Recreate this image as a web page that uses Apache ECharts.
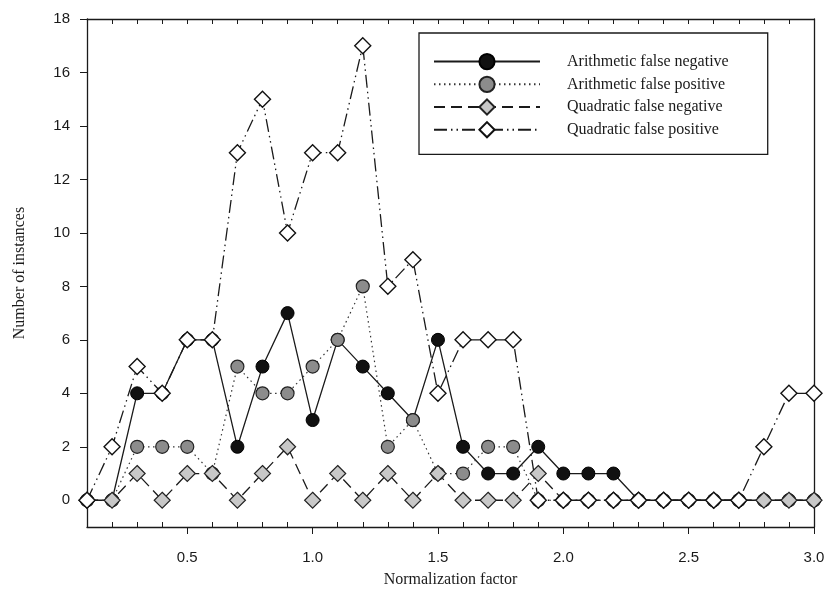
<!DOCTYPE html>
<html>
<head>
<meta charset="utf-8">
<title>Number of instances vs normalization factor</title>
<script src="https://cdn.jsdelivr.net/npm/echarts@6/dist/echarts.min.js"></script>
<style>
  html, body { margin: 0; padding: 0; background: #fff; }
  #chart { width: 829px; height: 599px; }
</style>
</head>
<body>
<div id="chart"></div>
<script>
// normalization factor values (x)
var factors = [0.1, 0.2, 0.3, 0.4, 0.5, 0.6, 0.7, 0.8, 0.9, 1.0,
  1.1, 1.2, 1.3, 1.4, 1.5, 1.6, 1.7, 1.8, 1.9, 2.0,
  2.1, 2.2, 2.3, 2.4, 2.5, 2.6, 2.7, 2.8, 2.9, 3.0];

var arithFalseNeg = [0, 0, 4, 4, 6, 6, 2, 5, 7, 3,
  6, 5, 4, 3, 6, 2, 1, 1, 2, 1,
  1, 1, 0, 0, 0, 0, 0, 0, 0, 0];
var arithFalsePos = [0, 0, 2, 2, 2, 1, 5, 4, 4, 5,
  6, 8, 2, 3, 1, 1, 2, 2, 0, 0,
  0, 0, 0, 0, 0, 0, 0, 0, 0, 0];
var quadFalseNeg = [0, 0, 1, 0, 1, 1, 0, 1, 2, 0,
  1, 0, 1, 0, 1, 0, 0, 0, 1, 0,
  0, 0, 0, 0, 0, 0, 0, 0, 0, 0];
var quadFalsePos = [0, 2, 5, 4, 6, 6, 13, 15, 10, 13,
  13, 17, 8, 9, 4, 6, 6, 6, 0, 0,
  0, 0, 0, 0, 0, 0, 0, 2, 4, 4];

var yTicks = [0, 2, 4, 6, 8, 10, 12, 14, 16, 18];
var xMajor = [0.5, 1.0, 1.5, 2.0, 2.5, 3.0];
var xMinor = [0.2, 0.3, 0.4, 0.6, 0.7, 0.8, 0.9, 1.1, 1.2, 1.3, 1.4,
  1.6, 1.7, 1.8, 1.9, 2.1, 2.2, 2.3, 2.4, 2.6, 2.7, 2.8, 2.9];

function pairs(values) {
  return factors.map(function (x, i) { return [x, values[i]]; });
}

var sansFont = "'Liberation Sans', Arial, sans-serif";
var serifFont = "'Liberation Serif', 'Times New Roman', serif";
var ink = "#1a1a1a";

var chart = echarts.init(document.getElementById("chart"));

chart.setOption({
  backgroundColor: "#ffffff",
  animation: false,
  grid: { left: 87, top: 19, right: 15, bottom: 72 },
  legend: {
    left: 419,
    top: 33,
    orient: "vertical",
    padding: [20, 39, 16, 14],
    borderColor: ink,
    borderWidth: 1.3,
    itemWidth: 106,
    itemHeight: 19,
    itemGap: 5.5,
    textStyle: {
      fontFamily: serifFont,
      fontSize: 16,
      color: ink,
      padding: [0, 0, 0, 22]
    }
  },
  xAxis: [
    {
      type: "value",
      min: 0.1,
      max: 3.0,
      position: "bottom",
      name: "Normalization factor",
      nameLocation: "middle",
      nameGap: 45,
      nameTextStyle: { fontFamily: serifFont, fontSize: 16, color: ink },
      axisLine: { onZero: false, lineStyle: { color: ink, width: 1.3 } },
      axisTick: { inside: false, length: 7, customValues: xMajor, lineStyle: { color: ink } },
      axisLabel: {
        customValues: xMajor,
        margin: 23,
        fontFamily: sansFont,
        fontSize: 15,
        color: ink,
        formatter: function (v) { return v.toFixed(1); }
      },
      splitLine: { show: false }
    },
    {
      type: "value",
      min: 0.1,
      max: 3.0,
      position: "bottom",
      axisLine: { show: false, onZero: false },
      axisTick: { inside: true, length: 5, customValues: xMinor, lineStyle: { color: ink } },
      axisLabel: { show: false },
      splitLine: { show: false }
    },
    {
      type: "value",
      min: 0.1,
      max: 3.0,
      position: "top",
      axisLine: { onZero: false, lineStyle: { color: ink, width: 1.3 } },
      axisTick: { inside: true, length: 5, customValues: xMinor.concat([0.5, 1.0, 1.5, 2.0, 2.5]), lineStyle: { color: ink } },
      axisLabel: { show: false },
      splitLine: { show: false }
    }
  ],
  yAxis: [
    {
      type: "value",
      min: -1,
      max: 18,
      name: "Number of instances",
      nameLocation: "middle",
      nameGap: 59,
      nameTextStyle: { fontFamily: serifFont, fontSize: 16, color: ink },
      axisLine: { show: true, onZero: false, lineStyle: { color: ink, width: 1.3 } },
      axisTick: { show: true, inside: false, length: 7, customValues: yTicks, lineStyle: { color: ink } },
      axisLabel: {
        customValues: yTicks,
        margin: 17,
        fontFamily: sansFont,
        fontSize: 15,
        color: ink
      },
      splitLine: { show: false }
    },
    {
      type: "value",
      min: -1,
      max: 18,
      position: "right",
      axisLine: { show: true, onZero: false, lineStyle: { color: ink, width: 1.3 } },
      axisTick: { show: false },
      axisLabel: { show: false },
      splitLine: { show: false }
    }
  ],
  series: [
    {
      name: "Arithmetic false negative",
      type: "line",
      data: pairs(arithFalseNeg),
      symbol: "circle",
      symbolSize: 13,
      lineStyle: { color: ink, width: 1.3, type: "solid" },
      itemStyle: { color: "#111111", borderColor: "#000000", borderWidth: 1 }
    },
    {
      name: "Arithmetic false positive",
      type: "line",
      data: pairs(arithFalsePos),
      symbol: "circle",
      symbolSize: 13,
      lineStyle: { color: "#333333", width: 1.2, type: [1.5, 3.5] },
      itemStyle: { color: "#8c8c8c", borderColor: "#222222", borderWidth: 1.2 }
    },
    {
      name: "Quadratic false negative",
      type: "line",
      data: pairs(quadFalseNeg),
      symbol: "diamond",
      symbolSize: 16,
      lineStyle: { color: ink, width: 1.3, type: [11, 6] },
      itemStyle: { color: "#c8c8c8", borderColor: "#222222", borderWidth: 1.2 }
    },
    {
      name: "Quadratic false positive",
      type: "line",
      data: pairs(quadFalsePos),
      symbol: "diamond",
      symbolSize: 16,
      lineStyle: { color: ink, width: 1.3, type: [13, 4, 1.5, 4, 1.5, 4] },
      itemStyle: { color: "#ffffff", borderColor: "#111111", borderWidth: 1.4 }
    }
  ]
});
</script>
</body>
</html>
